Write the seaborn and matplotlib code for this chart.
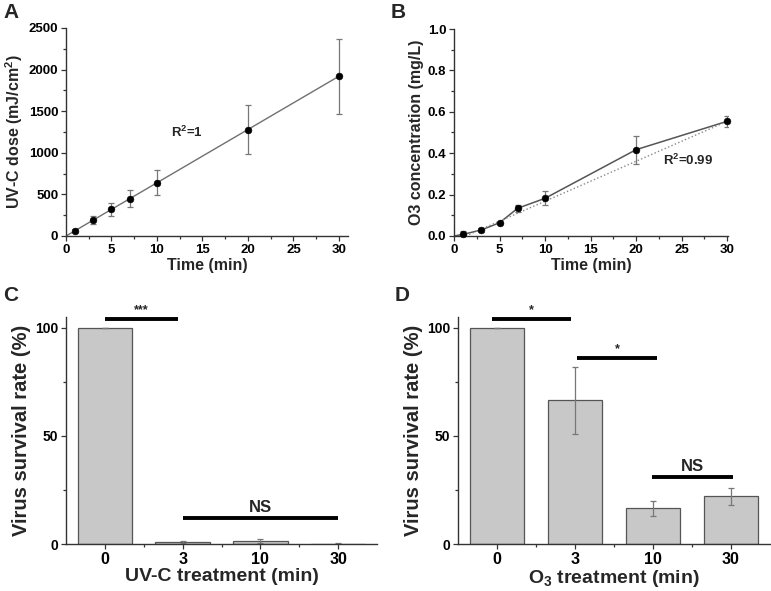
import numpy as np
import pandas as pd
import matplotlib
matplotlib.use("Agg")
import matplotlib.pyplot as plt
from matplotlib.ticker import MultipleLocator, FixedLocator
import seaborn as sns

# Panel A: UV-C dose over time
uv_time = [1, 3, 5, 7, 10, 20, 30]
uv_dose = [64, 192, 320, 448, 640, 1280, 1920]
uv_err = [15, 45, 75, 105, 150, 300, 450]
uv_fit_slope = 64.0
uv_fit_intercept = 0.0

# Panel B: O3 concentration over time
o3_time = [0, 1, 3, 5, 7, 10, 20, 30]
o3_conc = [0.0, 0.008, 0.029, 0.064, 0.134, 0.182, 0.417, 0.554]
o3_err = [0.0, 0.018, 0.012, 0.005, 0.018, 0.034, 0.067, 0.027]
o3_fit_slope = 0.0193
o3_fit_intercept = -0.025

# Panels C and D: virus survival
treat_labels = ["0", "3", "10", "30"]
uv_survival = [100, 1.0, 1.3, 0.2]
uv_surv_err = [0, 0.6, 1.0, 0.2]
o3_survival = [100, 66.5, 16.5, 22]
o3_surv_err = [0, 15.5, 3.5, 4.0]

sns.set_style("ticks")
plt.rcParams['font.family'] = ['Liberation Sans', 'DejaVu Sans']
plt.rcParams.update({
    'font.weight': 'bold',
    'axes.labelweight': 'bold',
    'mathtext.fontset': 'custom',
    'mathtext.rm': 'Liberation Sans:bold',
    'mathtext.bf': 'Liberation Sans:bold',
    'mathtext.default': 'bf',
    'axes.edgecolor': '#333333',
    'axes.linewidth': 1.0,
    'xtick.direction': 'out',
    'ytick.direction': 'out',
    'xtick.major.size': 3.5,
    'ytick.major.size': 3.5,
    'xtick.minor.size': 2,
    'ytick.minor.size': 2,
    'xtick.color': '#333333',
    'ytick.color': '#333333',
    'xtick.labelcolor': 'black',
    'ytick.labelcolor': 'black',
})

W, H = 771, 591
fig = plt.figure(figsize=(W / 100, H / 100), dpi=100)

def px_axes(left, top, right, bottom):
    return fig.add_axes([left / W, 1 - bottom / H, (right - left) / W, (bottom - top) / H])

axA = px_axes(66, 28, 348, 236)
axB = px_axes(454, 29, 728, 236)
axC = px_axes(66, 317, 377, 544)
axD = px_axes(458, 317, 770, 544)

err_kw = dict(fmt='none', ecolor='#777777', elinewidth=0.9, capsize=2, capthick=0.9, zorder=2)

# ---- A ----
fit_x = np.array([0, 30])
sns.lineplot(x=fit_x, y=uv_fit_slope * fit_x + uv_fit_intercept, color='#707070', lw=1.0, ax=axA)
axA.errorbar(uv_time, uv_dose, yerr=uv_err, **err_kw)
sns.scatterplot(x=uv_time, y=uv_dose, color='black', s=24, edgecolor='black', zorder=3, ax=axA, clip_on=False)
axA.set_xlim(0, 31)
axA.set_ylim(0, 2500)
axA.xaxis.set_major_locator(MultipleLocator(5))
axA.xaxis.set_minor_locator(MultipleLocator(2.5))
axA.yaxis.set_major_locator(MultipleLocator(500))
axA.yaxis.set_minor_locator(MultipleLocator(250))
axA.set_xlabel("Time (min)", fontsize=11.5, labelpad=2)
axA.set_ylabel("UV-C dose (mJ/cm$^2$)", fontsize=11.5, labelpad=3)
axA.text(11.5, 1250, "R$^2$=1", fontsize=9.5, fontweight='bold', va='center')

# ---- B ----
sns.lineplot(x=o3_time, y=o3_conc, color='#555555', lw=1.1, ax=axB)
fx = np.array([-o3_fit_intercept / o3_fit_slope, 30])
sns.lineplot(x=fx, y=o3_fit_slope * fx + o3_fit_intercept, color='#888888', lw=1.0,
             linestyle=':', ax=axB)
axB.errorbar(o3_time, o3_conc, yerr=o3_err, **err_kw)
sns.scatterplot(x=o3_time[1:], y=o3_conc[1:], color='black', s=24, edgecolor='black', zorder=3, ax=axB, clip_on=False)
axB.set_xlim(0, 30.1)
axB.set_ylim(0, 1.0)
axB.xaxis.set_major_locator(MultipleLocator(5))
axB.xaxis.set_minor_locator(MultipleLocator(2.5))
axB.yaxis.set_major_locator(MultipleLocator(0.2))
axB.yaxis.set_minor_locator(MultipleLocator(0.1))
axB.yaxis.set_major_formatter(matplotlib.ticker.FormatStrFormatter('%.1f'))
axB.set_xlabel("Time (min)", fontsize=11.5, labelpad=2)
axB.set_ylabel("O3 concentration (mg/L)", fontsize=11.5, labelpad=3)
axB.text(23, 0.365, "R$^2$=0.99", fontsize=9.5, fontweight='bold', va='center')

# ---- C and D ----
def bar_panel(ax, vals, errs, xlabel):
    df = pd.DataFrame({"treat": treat_labels, "surv": vals})
    sns.barplot(data=df, x="treat", y="surv", order=treat_labels, color='#c8c8c8',
                saturation=1, edgecolor='#555555', linewidth=0.9, width=0.7,
                errorbar=None, ax=ax)
    ax.errorbar(range(len(vals)), vals, yerr=errs, **err_kw)
    ax.set_xlim(-0.5, 3.5)
    ax.set_ylim(0, 105)
    ax.yaxis.set_major_locator(FixedLocator([0, 50, 100]))
    ax.yaxis.set_minor_locator(FixedLocator([25, 75]))
    ax.xaxis.set_minor_locator(FixedLocator([0.5, 1.5, 2.5]))
    ax.tick_params(axis='x', labelsize=11.5)
    ax.tick_params(axis='y', labelsize=10)
    ax.set_xlabel(xlabel, fontsize=14, labelpad=1)
    ax.set_ylabel("Virus survival rate (%)", fontsize=14.5, labelpad=3)

def sig_bar(ax, x0, x1, y, label, fs):
    ax.plot([x0, x1], [y, y], color='black', lw=2.8, clip_on=False, solid_capstyle='butt')
    ax.text((x0 + x1) / 2, y + 1.5, label, ha='center', va='bottom', fontsize=fs, fontweight='bold')

bar_panel(axC, uv_survival, uv_surv_err, "UV-C treatment (min)")
sig_bar(axC, 0.0, 0.94, 104, "***", 9)
sig_bar(axC, 1.0, 3.0, 12, "NS", 12)

bar_panel(axD, o3_survival, o3_surv_err, "O$_3$ treatment (min)")
sig_bar(axD, -0.06, 0.95, 104, "*", 9)
sig_bar(axD, 1.03, 2.05, 86, "*", 9)
sig_bar(axD, 1.99, 3.03, 31, "NS", 12)

for ax in (axA, axB, axC, axD):
    sns.despine(ax=ax)
    ax.tick_params(which='both', width=0.9)
    ax.tick_params(which='major', pad=2)
for ax in (axA, axB):
    ax.tick_params(labelsize=9.5)

for letter, x, y in [("A", 3, 3), ("B", 391, 3), ("C", 3, 286), ("D", 395, 286)]:
    fig.text(x / W, 1 - y / H, letter, fontsize=15, fontweight='bold', va='top', ha='left')

fig.savefig("out.png", dpi=100)
